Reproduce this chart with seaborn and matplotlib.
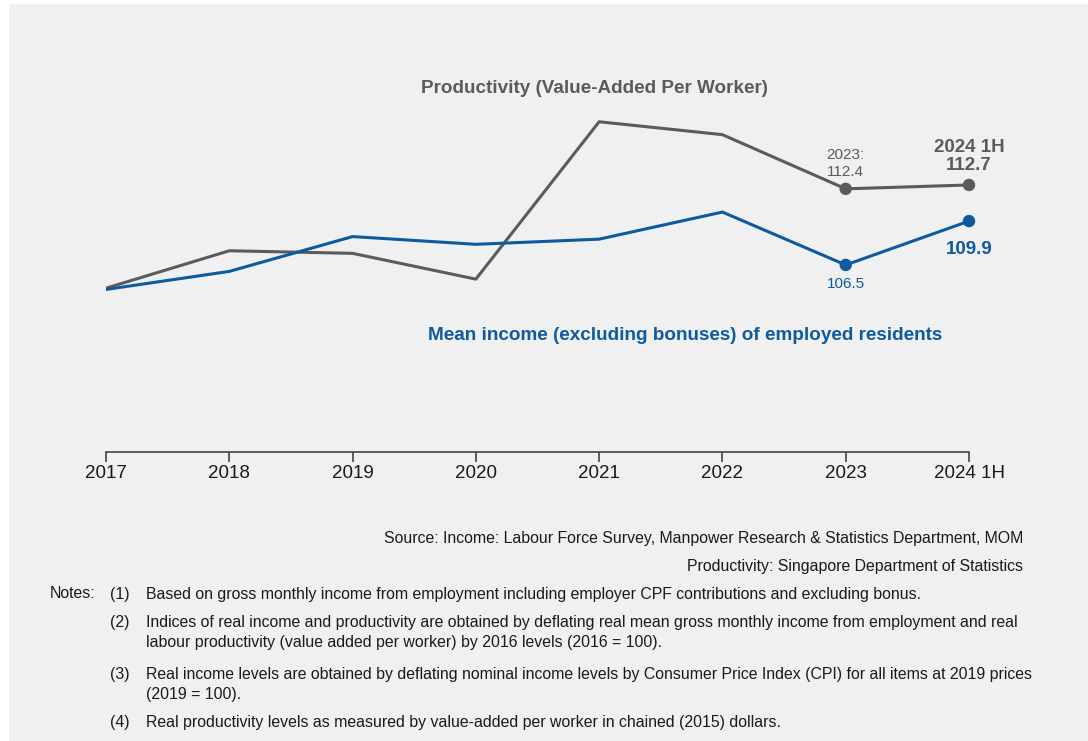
import matplotlib
matplotlib.use("Agg")
import matplotlib.pyplot as plt
from matplotlib.patches import Rectangle
import seaborn as sns
import pandas as pd

# Index values by year
years = ["2017", "2018", "2019", "2020", "2021", "2022", "2023", "2024 1H"]
productivity = [104.7, 107.6, 107.4, 105.4, 117.6, 116.6, 112.4, 112.7]
income = [104.6, 106.0, 108.7, 108.1, 108.5, 110.6, 106.5, 109.9]

prod_name = "Productivity (Value-Added Per Worker)"
inc_name = "Mean income (excluding bonuses) of employed residents"

source_lines = [
    "Source: Income: Labour Force Survey, Manpower Research & Statistics Department, MOM",
    "Productivity: Singapore Department of Statistics",
]
notes = [
    ("(1)", ["Based on gross monthly income from employment including employer CPF contributions and excluding bonus."]),
    ("(2)", ["Indices of real income and productivity are obtained by deflating real mean gross monthly income from employment and real",
             "labour productivity (value added per worker) by 2016 levels (2016 = 100)."]),
    ("(3)", ["Real income levels are obtained by deflating nominal income levels by Consumer Price Index (CPI) for all items at 2019 prices",
             "(2019 = 100)."]),
    ("(4)", ["Real productivity levels as measured by value-added per worker in chained (2015) dollars."]),
]

GREY = "#5b5b5b"
BLUE = "#0e5a9e"
TEXT = "#1a1a1a"

sns.set_theme(style="white")
plt.rcParams["font.family"] = ["Liberation Sans", "DejaVu Sans"]

df = pd.DataFrame({
    "year": years * 2,
    "value": productivity + income,
    "series": [prod_name] * len(years) + [inc_name] * len(years),
})

W, H = 1088, 741
fig = plt.figure(figsize=(W / 100, H / 100), dpi=100, facecolor="white")
fig.patches.append(Rectangle((9 / W, 0), 1 - 9 / W, 1 - 4 / H, transform=fig.transFigure,
                             facecolor="#f0f0f0", edgecolor="none", zorder=-10))

ax_left, ax_right = 106 / W, 969 / W
ax_bottom, ax_top = (H - 452) / H, (H - 65) / H
ax = fig.add_axes([ax_left, ax_bottom, ax_right - ax_left, ax_top - ax_bottom])
ax.set_facecolor("none")

palette = {prod_name: GREY, inc_name: BLUE}
sns.lineplot(data=df, x="year", y="value", hue="series", sort=False,
             palette=palette, linewidth=2.2, legend=False, ax=ax)

# Highlight the latest two points of each series
last = df[df["year"].isin(years[-2:])]
sns.scatterplot(data=last, x="year", y="value", hue="series", palette=palette,
                s=80, edgecolor="none", legend=False, ax=ax, zorder=5, clip_on=False)

ax.set_xlim(0, len(years) - 1)
ax.set_ylim(92, 122)
ax.set_xticks(range(len(years)))
ax.set_xticklabels(years, fontsize=13.5, color=TEXT)
ax.set_yticks([])
ax.set_xlabel("")
ax.set_ylabel("")
for side in ["top", "right", "left"]:
    ax.spines[side].set_visible(False)
ax.spines["bottom"].set_color("#444444")
ax.spines["bottom"].set_linewidth(1.2)
ax.tick_params(axis="x", direction="out", length=7, width=1.2, color="#444444", pad=2, bottom=True)

# Series labels
ax.text(3.96, 120.15, prod_name, ha="center", va="center", fontsize=13.6,
        fontweight="bold", color=GREY)
ax.text(4.70, 101.0, inc_name, ha="center", va="center", fontsize=13.6,
        fontweight="bold", color=BLUE)

# Value annotations
i23, i24 = len(years) - 2, len(years) - 1
ax.annotate(f"2023:\n{productivity[i23]:.1f}", (i23, productivity[i23]), xytext=(0, 7),
            textcoords="offset points", ha="center", va="bottom", fontsize=11,
            color=GREY, linespacing=1.25)
ax.annotate(f"2024 1H\n{productivity[i24]:.1f}", (i24, productivity[i24]), xytext=(0, 8),
            textcoords="offset points", ha="center", va="bottom", fontsize=13.5,
            fontweight="bold", color=GREY, linespacing=1.05)
ax.annotate(f"{income[i23]:.1f}", (i23, income[i23]), xytext=(0, -9),
            textcoords="offset points", ha="center", va="top", fontsize=11, color=BLUE)
ax.annotate(f"{income[i24]:.1f}", (i24, income[i24]), xytext=(0, -14),
            textcoords="offset points", ha="center", va="top", fontsize=13.5,
            fontweight="bold", color=BLUE)

# Source lines, right aligned
def fy(py):
    return 1 - py / H

FS = 11.4
for k, line in enumerate(source_lines):
    fig.text(1023 / W, fy(538 + 28 * k), line, ha="right", va="center",
             fontsize=FS, color=TEXT)

# Notes
fig.text(95 / W, fy(594), "Notes:", ha="right", va="center", fontsize=FS, color=TEXT)
note_y = [[594], [622, 642], [674, 694], [722]]
for (num, lines), ys in zip(notes, note_y):
    fig.text(110 / W, fy(ys[0]), num, ha="left", va="center", fontsize=FS, color=TEXT)
    for line, y in zip(lines, ys):
        fig.text(146 / W, fy(y), line, ha="left", va="center", fontsize=FS, color=TEXT)

fig.savefig("out.png", dpi=100, facecolor="white")
